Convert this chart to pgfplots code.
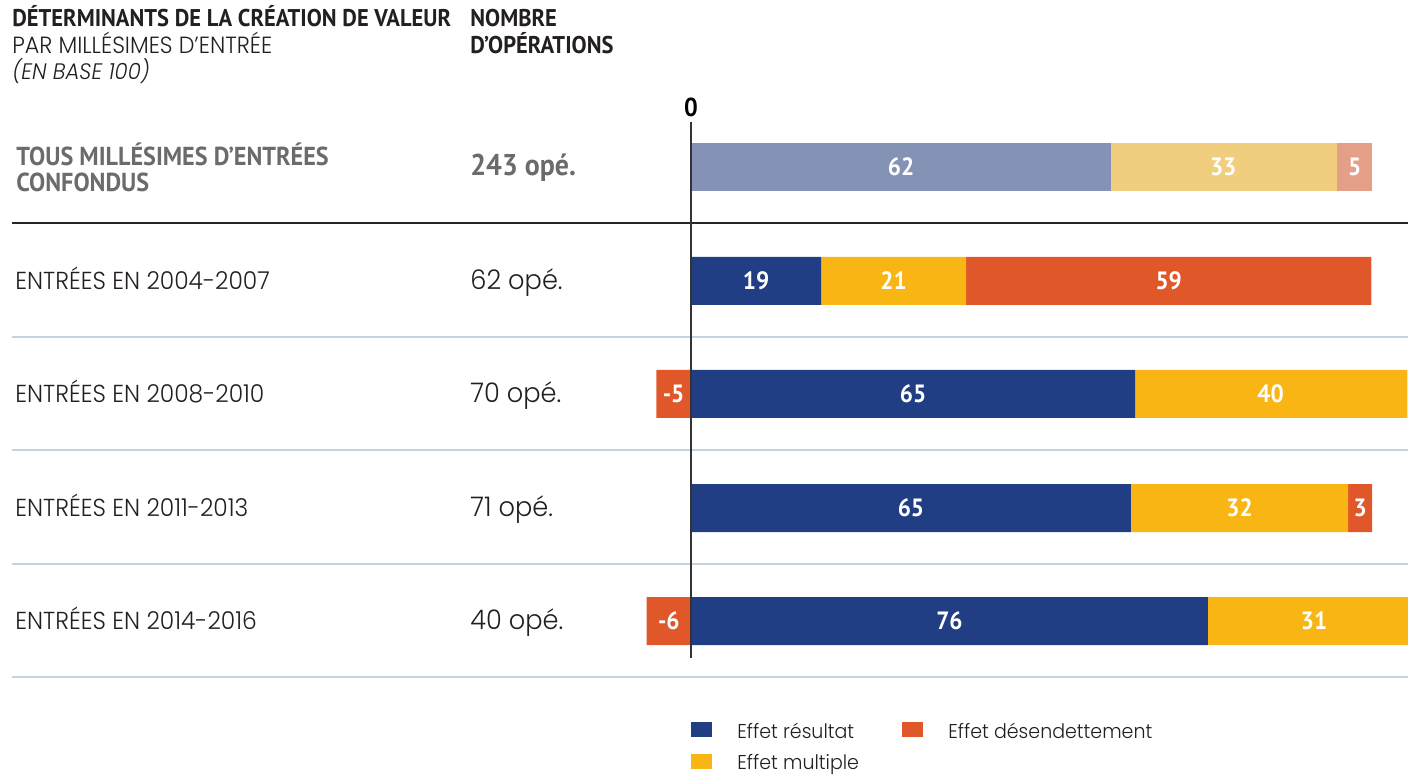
\documentclass[border=0pt]{standalone}
\usepackage{pgfplots}
\pgfplotsset{compat=1.18}
\usepackage{fontspec}
\setmainfont{Poppins}[UprightFont=* Light, ItalicFont=* Light Italic, FakeStretch=0.95]
\newfontfamily\cond{PT Sans}[FakeStretch=0.93]
\definecolor{cblue}{HTML}{213E85}
\definecolor{cyellow}{HTML}{F9B514}
\definecolor{corange}{HTML}{E0582A}
\definecolor{pblue}{HTML}{8493B5}
\definecolor{pyellow}{HTML}{F0CE7E}
\definecolor{porange}{HTML}{E49F88}
\definecolor{tgray}{HTML}{6D6B6A}
\definecolor{sepc}{HTML}{C5D3DF}
\definecolor{txt}{HTML}{231F20}
\pgfplotsset{base/.style={scale only axis, width=704pt, height=387.5pt,
  xmin=-101.468, xmax=105.286, ymin=0, ymax=775, y dir=reverse,
  axis lines=none, at={(0,0)}, anchor=south west}}
\newcommand{\px}[2]{({#1*0.5},{(775-#2)*0.5})}
\begin{document}
\begin{tikzpicture}[x=1pt,y=1pt]
\useasboundingbox (0,0) rectangle (704,387.5);
\begin{axis}[base, xbar stacked, bar width=48]
\addplot[fill=pblue, draw=none] coordinates {(61.7,167) (0,281) (0,394) (0,508) (0,621)};
\addplot[fill=pyellow, draw=none] coordinates {(33.2,167) (0,281) (0,394) (0,508) (0,621)};
\addplot[fill=porange, draw=none] coordinates {(5.1,167) (0,281) (0,394) (0,508) (0,621)};
\addplot[fill=cblue, draw=none] coordinates {(0,167) (19.1,281) (65.2,394) (64.6,508) (75.9,621)};
\addplot[fill=cyellow, draw=none] coordinates {(0,167) (21.3,281) (40,394) (31.9,508) (31,621)};
\addplot[fill=corange, draw=none] coordinates {(0,167) (59.5,281) (0,394) (3.5,508) (0,621)};
\end{axis}
\begin{axis}[base, clip=false]
\addplot[xbar, bar width=48, fill=corange, draw=none, forget plot] coordinates {(-5.1,394) (-6.5,621)};
\draw[black!85, line width=1.3pt] (axis cs:-99.71,223) -- (axis cs:105.286,223);
\draw[sepc, line width=0.8pt] (axis cs:-99.71,337) -- (axis cs:105.286,337);
\draw[sepc, line width=0.8pt] (axis cs:-99.71,450) -- (axis cs:105.286,450);
\draw[sepc, line width=0.8pt] (axis cs:-99.71,564) -- (axis cs:105.286,564);
\draw[sepc, line width=0.8pt] (axis cs:-99.71,677) -- (axis cs:105.286,677);
\draw[black!80, line width=0.6pt] (axis cs:0,122) -- (axis cs:0,658);
\addplot[draw=none, mark=none, forget plot, nodes near coords, point meta=explicit symbolic,
  nodes near coords style={anchor=center, text=white, font=\cond\bfseries\fontsize{12.5}{12}\selectfont}]
  table[meta=lab] {
x y lab
30.85 167 62
78.15 167 33
97.45 167 5
9.55 281 19
29.75 281 21
70.15 281 59
-2.55 394 -5
32.6 394 65
85.1 394 40
32.3 508 65
80.55 508 32
98.25 508 3
-3.25 621 -6
37.95 621 76
91.5 621 31
};
\end{axis}
% legend
\fill[cblue] \px{691}{737} rectangle \px{712}{722};
\fill[corange] \px{902}{737} rectangle \px{923}{722};
\fill[cyellow] \px{691}{769} rectangle \px{712}{754};
\node[anchor=base west, inner sep=0, text=txt, font=\fontsize{10}{12}\selectfont] at \px{737}{739} {Effet résultat};
\node[anchor=base west, inner sep=0, text=txt, font=\fontsize{10}{12}\selectfont] at \px{948}{739} {Effet désendettement};
\node[anchor=base west, inner sep=0, text=txt, font=\fontsize{10}{12}\selectfont] at \px{737}{770} {Effet multiple};
% header texts
\node[anchor=base west, inner sep=0, text=txt, font=\cond\bfseries\fontsize{12.1}{14}\selectfont] at \px{12}{27} {DÉTERMINANTS DE LA CRÉATION DE VALEUR};
\node[anchor=base west, inner sep=0, text=txt, font=\fontsize{11.7}{14}\selectfont] at \px{12}{54} {PAR MILLÉSIMES D’ENTRÉE};
\node[anchor=base west, inner sep=0, text=txt, font=\itshape\fontsize{11.2}{14}\selectfont] at \px{12}{80} {(EN BASE 100)};
\node[anchor=base west, inner sep=0, text=txt, font=\cond\bfseries\fontsize{12.1}{14}\selectfont] at \px{470}{27} {NOMBRE};
\node[anchor=base west, inner sep=0, text=txt, font=\cond\bfseries\fontsize{12.1}{14}\selectfont] at \px{470}{54} {D’OPÉRATIONS};
\node[anchor=base, inner sep=0, font=\cond\bfseries\fontsize{13}{14}\selectfont] at \px{691}{117} {0};
% row labels
\node[anchor=base west, inner sep=0, text=tgray, font=\cond\bfseries\fontsize{13}{14}\selectfont] at \px{16}{166} {TOUS MILLÉSIMES D’ENTRÉES};
\node[anchor=base west, inner sep=0, text=tgray, font=\cond\bfseries\fontsize{13}{14}\selectfont] at \px{16}{192} {CONFONDUS};
\node[anchor=base west, inner sep=0, text=tgray, font=\cond\bfseries\fontsize{15}{16}\selectfont] at \px{470}{176} {243 opé.};
\foreach \yb/\lab/\cnt in {290/2004-2007/62, 403/2008-2010/70, 517/2011-2013/71, 630/2014-2016/40}{
  \node[anchor=base west, inner sep=0, text=txt, font=\fontsize{12.3}{14}\selectfont] at \px{15}{\yb} {ENTRÉES EN \lab};
  \node[anchor=base west, inner sep=0, text=txt, font=\fontsize{13.5}{14}\selectfont] at \px{470}{\yb} {\cnt{} opé.};
}
\end{tikzpicture}
\end{document}
